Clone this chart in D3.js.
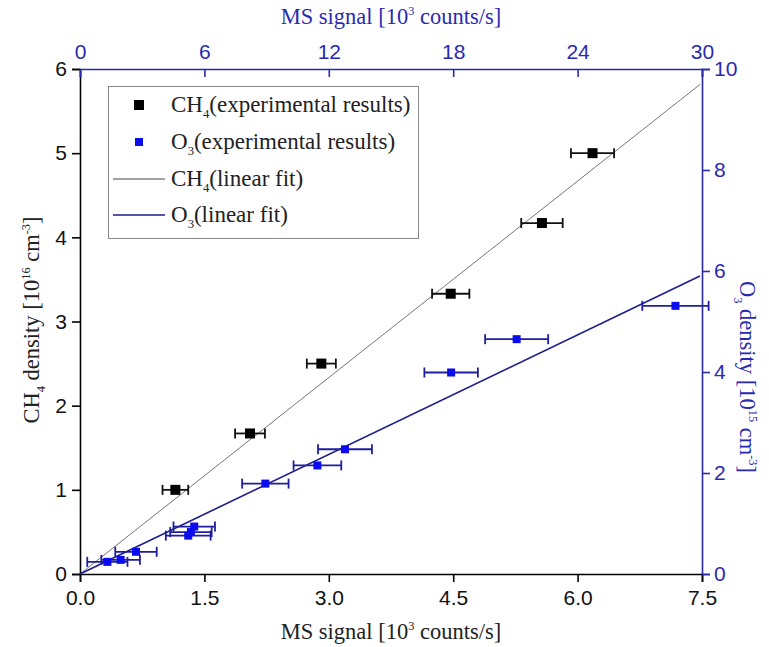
<!DOCTYPE html>
<html><head><meta charset="utf-8">
<script src="https://cdn.jsdelivr.net/npm/d3@7"></script>
<style>html,body{margin:0;padding:0;background:#fff;}svg{display:block;}</style>
</head><body>
<script>
// Data
const ch4X = [1.15, 2.05, 2.91, 4.47, 5.57, 6.18];
const ch4Y = [1.0, 1.67, 2.5, 3.33, 4.17, 5.0];
const ch4Err = [0.155, 0.18, 0.175, 0.225, 0.25, 0.26];
const o3X = [1.32, 1.96, 2.70, 5.22, 5.35, 5.51, 8.94, 11.45, 12.78, 17.9, 21.06, 28.72];
const o3Y = [0.24, 0.28, 0.44, 0.76, 0.83, 0.94, 1.79, 2.15, 2.47, 3.99, 4.65, 5.31];
const o3Err = [0.97, 0.93, 1.0, 1.08, 1.0, 1.0, 1.12, 1.15, 1.3, 1.29, 1.52, 1.6];
const ch4FitX = [0, 7.48], ch4FitY = [0, 5.82];
const o3FitX = [0, 29.9], o3FitY = [0, 5.9];
const bottomTicks = [0, 1.5, 3.0, 4.5, 6.0, 7.5];
const topTicks = [0, 6, 12, 18, 24, 30];
const leftTicks = [0, 1, 2, 3, 4, 5, 6];
const rightTicks = [0, 2, 4, 6, 8, 10];

const W = 769, H = 647;
const L = 80, R = 702, T = 69, B = 574;
const blue = "#2a2aa8", blueText = "#2a2ab0", markBlue = "#0b0bf0", barBlue = "#1e1e9e";

const svg = d3.select("body").append("svg").attr("width", W).attr("height", H);
svg.append("rect").attr("width", W).attr("height", H).attr("fill", "#fff");

const xB = d3.scaleLinear().domain([0, 7.5]).range([L, R]);
const xT = d3.scaleLinear().domain([0, 30]).range([L, R]);
const yL = d3.scaleLinear().domain([0, 6]).range([B, T]);
const yR = d3.scaleLinear().domain([0, 10]).range([B, T]);

const tickFont = "'Liberation Sans', Arial, sans-serif";
const serif = "'Liberation Serif', 'Times New Roman', serif";
const tickSize = 21;

function minorVals(ticks) {
  const out = [];
  for (let i = 0; i < ticks.length - 1; i++) out.push((ticks[i] + ticks[i + 1]) / 2);
  return out;
}

// Bottom axis
const gB = svg.append("g").attr("transform", `translate(0,${B})`);
gB.call(d3.axisBottom(xB).tickValues(minorVals(bottomTicks)).tickSize(4).tickFormat(""));
gB.call(d3.axisBottom(xB).tickValues(bottomTicks).tickSize(8).tickPadding(8).tickFormat(d3.format(".1f")));
gB.selectAll("path,line").attr("stroke", "#000").attr("stroke-width", 1.6);
gB.selectAll("text").attr("font-family", tickFont).attr("font-size", tickSize).attr("fill", "#111");

// Left axis
const gL = svg.append("g").attr("transform", `translate(${L},0)`);
gL.call(d3.axisLeft(yL).tickValues(minorVals(leftTicks)).tickSize(4).tickFormat(""));
gL.call(d3.axisLeft(yL).tickValues(leftTicks).tickSize(8).tickPadding(5).tickFormat(d3.format("d")));
gL.selectAll("path,line").attr("stroke", "#000").attr("stroke-width", 1.6);
gL.selectAll("text").attr("font-family", tickFont).attr("font-size", tickSize).attr("fill", "#111");

// Top axis (ticks inward)
const gT = svg.append("g").attr("transform", `translate(0,${T})`);
gT.call(d3.axisTop(xT).tickValues(minorVals(topTicks)).tickSize(-5).tickFormat(""));
gT.call(d3.axisTop(xT).tickValues(topTicks).tickSize(-8).tickPadding(10).tickFormat(d3.format("d")));
gT.selectAll("path,line").attr("stroke", blue).attr("stroke-width", 1.6);
gT.selectAll("text").attr("font-family", tickFont).attr("font-size", tickSize).attr("fill", blueText);

// Right axis
const gR = svg.append("g").attr("transform", `translate(${R},0)`);
gR.call(d3.axisRight(yR).tickValues(minorVals(rightTicks)).tickSize(4).tickFormat(""));
gR.call(d3.axisRight(yR).tickValues(rightTicks).tickSize(8).tickPadding(4).tickFormat(d3.format("d")));
gR.selectAll("path,line").attr("stroke", blue).attr("stroke-width", 1.6);
gR.selectAll("text").attr("font-family", tickFont).attr("font-size", tickSize).attr("fill", blueText);
svg.selectAll(".domain").attr("fill", "none");

// Fit lines
const line = (xs, ys) => d3.line().x(d => xs(d[0])).y(d => ys(d[1]));
svg.append("path").datum(ch4FitX.map((v, i) => [v, ch4FitY[i]]))
  .attr("d", line(xB, yL)).attr("stroke", "#666").attr("stroke-width", 0.9).attr("fill", "none");
svg.append("path").datum(o3FitX.map((v, i) => [v, o3FitY[i]]))
  .attr("d", line(xT, yR)).attr("stroke", "#1c1c8c").attr("stroke-width", 1.6).attr("fill", "none");

// Error bars + markers
function drawSeries(xs, ys, X, Y, E, color, barColor, size) {
  const g = svg.append("g");
  const data = X.map((v, i) => ({ x: v, y: Y[i], e: E[i] }));
  const cap = 5;
  data.forEach(d => {
    const x0 = xs(d.x - d.e), x1 = xs(d.x + d.e), yy = ys(d.y);
    g.append("line").attr("x1", x0).attr("x2", x1).attr("y1", yy).attr("y2", yy).attr("stroke", barColor).attr("stroke-width", 1.8);
    g.append("line").attr("x1", x0).attr("x2", x0).attr("y1", yy - cap).attr("y2", yy + cap).attr("stroke", barColor).attr("stroke-width", 1.8);
    g.append("line").attr("x1", x1).attr("x2", x1).attr("y1", yy - cap).attr("y2", yy + cap).attr("stroke", barColor).attr("stroke-width", 1.8);
  });
  g.selectAll("rect.m").data(data).join("rect").attr("class", "m")
    .attr("x", d => xs(d.x) - size / 2).attr("y", d => ys(d.y) - size / 2)
    .attr("width", size).attr("height", size).attr("fill", color);
}
drawSeries(xT, yR, o3X, o3Y, o3Err, markBlue, barBlue, 8);
drawSeries(xB, yL, ch4X, ch4Y, ch4Err, "#000", "#111", 10);

// Rich text with sub/superscripts
function title(sel, parts, size) {
  parts.forEach(p => {
    const t = sel.append("tspan").text(p.t);
    if (p.sup) t.attr("baseline-shift", (size * 0.42) + "px").attr("font-size", (size * 0.55) + "px");
    if (p.sub) t.attr("baseline-shift", (-size * 0.28) + "px").attr("font-size", (size * 0.55) + "px");
  });
}
const titleSize = 22.5;
const tb = svg.append("text").attr("x", (L + R) / 2).attr("y", 639).attr("text-anchor", "middle")
  .attr("font-family", serif).attr("font-size", titleSize).attr("fill", "#222");
title(tb, [{ t: "MS signal [10" }, { t: "3", sup: 1 }, { t: " counts/s]" }], titleSize);
const tt = svg.append("text").attr("x", (L + R) / 2).attr("y", 24).attr("text-anchor", "middle")
  .attr("font-family", serif).attr("font-size", titleSize).attr("fill", blueText);
title(tt, [{ t: "MS signal [10" }, { t: "3", sup: 1 }, { t: " counts/s]" }], titleSize);
const tl = svg.append("text").attr("transform", "translate(39,320) rotate(-90)").attr("text-anchor", "middle")
  .attr("font-family", serif).attr("font-size", titleSize).attr("fill", "#222");
title(tl, [{ t: "CH" }, { t: "4", sub: 1 }, { t: " density [10" }, { t: "16", sup: 1 }, { t: " cm" }, { t: "-3", sup: 1 }, { t: "]" }], titleSize);
const tr = svg.append("text").attr("transform", "translate(740,377) rotate(90)").attr("text-anchor", "middle")
  .attr("font-family", serif).attr("font-size", titleSize).attr("fill", blueText);
title(tr, [{ t: "O" }, { t: "3", sub: 1 }, { t: " density [10" }, { t: "15", sup: 1 }, { t: " cm" }, { t: "-3", sup: 1 }, { t: "]" }], titleSize);

// Legend
const legendLabels = [
  [{ t: "CH" }, { t: "4", sub: 1 }, { t: "(experimental results)" }],
  [{ t: "O" }, { t: "3", sub: 1 }, { t: "(experimental results)" }],
  [{ t: "CH" }, { t: "4", sub: 1 }, { t: "(linear fit)" }],
  [{ t: "O" }, { t: "3", sub: 1 }, { t: "(linear fit)" }]
];
const lg = svg.append("g");
lg.append("rect").attr("x", 108.5).attr("y", 86.5).attr("width", 310).attr("height", 152)
  .attr("fill", "#fff").attr("stroke", "#888").attr("stroke-width", 1);
const rowY = [105, 142, 179, 215];
lg.append("rect").attr("x", 139 - 5).attr("y", rowY[0] - 5).attr("width", 10).attr("height", 10).attr("fill", "#000");
lg.append("rect").attr("x", 139 - 4).attr("y", rowY[1] - 4).attr("width", 8).attr("height", 8).attr("fill", markBlue);
lg.append("line").attr("x1", 113).attr("x2", 165).attr("y1", rowY[2]).attr("y2", rowY[2]).attr("stroke", "#444").attr("stroke-width", 1);
lg.append("line").attr("x1", 113).attr("x2", 165).attr("y1", rowY[3]).attr("y2", rowY[3]).attr("stroke", "#1c1c8c").attr("stroke-width", 1.3);
legendLabels.forEach((parts, i) => {
  const t = lg.append("text").attr("x", 171).attr("y", rowY[i] + 7)
    .attr("font-family", serif).attr("font-size", 23).attr("fill", "#222");
  title(t, parts, 23);
});
</script>
</body></html>
